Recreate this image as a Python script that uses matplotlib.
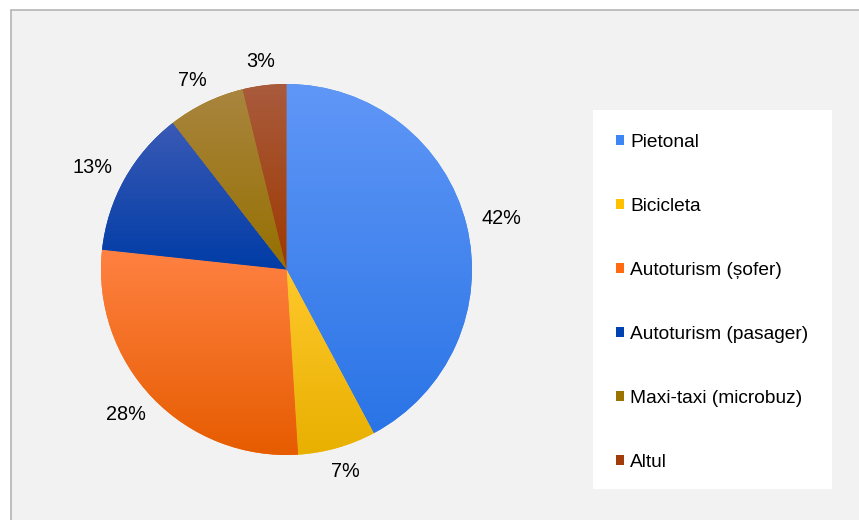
import numpy as np
import matplotlib
matplotlib.use('Agg')
import matplotlib.pyplot as plt
from matplotlib.patches import Rectangle, Patch
from matplotlib.colors import LinearSegmentedColormap

plt.rcParams['font.family'] = ['Liberation Sans', 'DejaVu Sans']

labels = ['Pietonal', 'Bicicleta', 'Autoturism (șofer)', 'Autoturism (pasager)',
          'Maxi-taxi (microbuz)', 'Altul']
# slice shares (percent)
values = [42.2, 6.8, 27.7, 12.8, 6.7, 3.8]
# percentages as printed on the chart
pct_labels = ['42%', '7%', '28%', '13%', '7%', '3%']
# legend / base colours and gradient ends (top, bottom) for each slice
base_colors = ['#3f86f5', '#ffc000', '#ff6a12', '#0042b0', '#9b7300', '#a33c0b']
top_colors = ['#6097f7', '#ffc82c', '#ff8142', '#3a5ab5', '#a9853f', '#a95b3d']
bottom_colors = ['#2a74e6', '#e8b000', '#e65c00', '#003ca6', '#967000', '#9e3900']

W, H = 859, 520
fig = plt.figure(figsize=(W / 100, H / 100), dpi=100, facecolor='white')

# chart area background with thin grey border
fig.patches.append(Rectangle((10.5 / W, -0.05), 1.2, 1 - 9.5 / H + 0.05,
                             transform=fig.transFigure, facecolor='#f2f2f2',
                             edgecolor='#b4b4b4', linewidth=1.2, zorder=-2))
# white legend panel
fig.patches.append(Rectangle((593 / W, 1 - 489 / H), (832 - 593) / W, (489 - 110) / H,
                             transform=fig.transFigure, facecolor='white',
                             edgecolor='none', zorder=-1))

# pie axes: centre (286.5, 269.5) px, radius 185.5 px
R = 185.5
lim = 1.3
side = 2 * lim * R
ax = fig.add_axes([(286.5 - side / 2) / W, (H - 269.5 - side / 2) / H, side / W, side / H])
ax.set_facecolor('none')
ax.set_zorder(2)

wedges, _ = ax.pie(values, colors=base_colors, startangle=90, counterclock=False,
                   radius=1, wedgeprops=dict(linewidth=0))

grad = np.linspace(1, 0, 256).reshape(-1, 1)
for w, ct, cb in zip(wedges, top_colors, bottom_colors):
    ext = w.get_path().get_extents()
    cmap = LinearSegmentedColormap.from_list('g', [cb, ct])
    im = ax.imshow(grad, cmap=cmap, extent=(ext.x0, ext.x1, ext.y0, ext.y1),
                   aspect='auto', origin='upper', zorder=w.get_zorder() + 0.1,
                   interpolation='bilinear')
    im.set_clip_path(w)

# percentage labels placed just outside each slice
for w, txt in zip(wedges, pct_labels):
    ang = np.deg2rad((w.theta1 + w.theta2) / 2)
    c, s = np.cos(ang), np.sin(ang)
    half_w = 0.105 if len(txt) > 2 else 0.075
    half_h = 0.04
    x = 1.09 * c + half_w * c
    y = 1.09 * s + half_h * s
    ax.text(x, y, txt, ha='center', va='center', fontsize=14.3, color='black', zorder=5)

ax.set_xlim(-lim, lim)
ax.set_ylim(-lim, lim)
ax.set_aspect('equal')
ax.axis('off')

handles = [Patch(facecolor=c, edgecolor='none') for c in base_colors]
leg = fig.legend(handles, labels, loc='upper left',
                 bbox_to_anchor=(616 / W, 1 - 134 / H), frameon=False,
                 fontsize=13.8, handlelength=0.44, handleheight=0.44,
                 handletextpad=0.3, labelspacing=2.45, borderpad=0,
                 borderaxespad=0)
leg.set_zorder(3)

fig.savefig('out.png', dpi=100, facecolor=fig.get_facecolor())
